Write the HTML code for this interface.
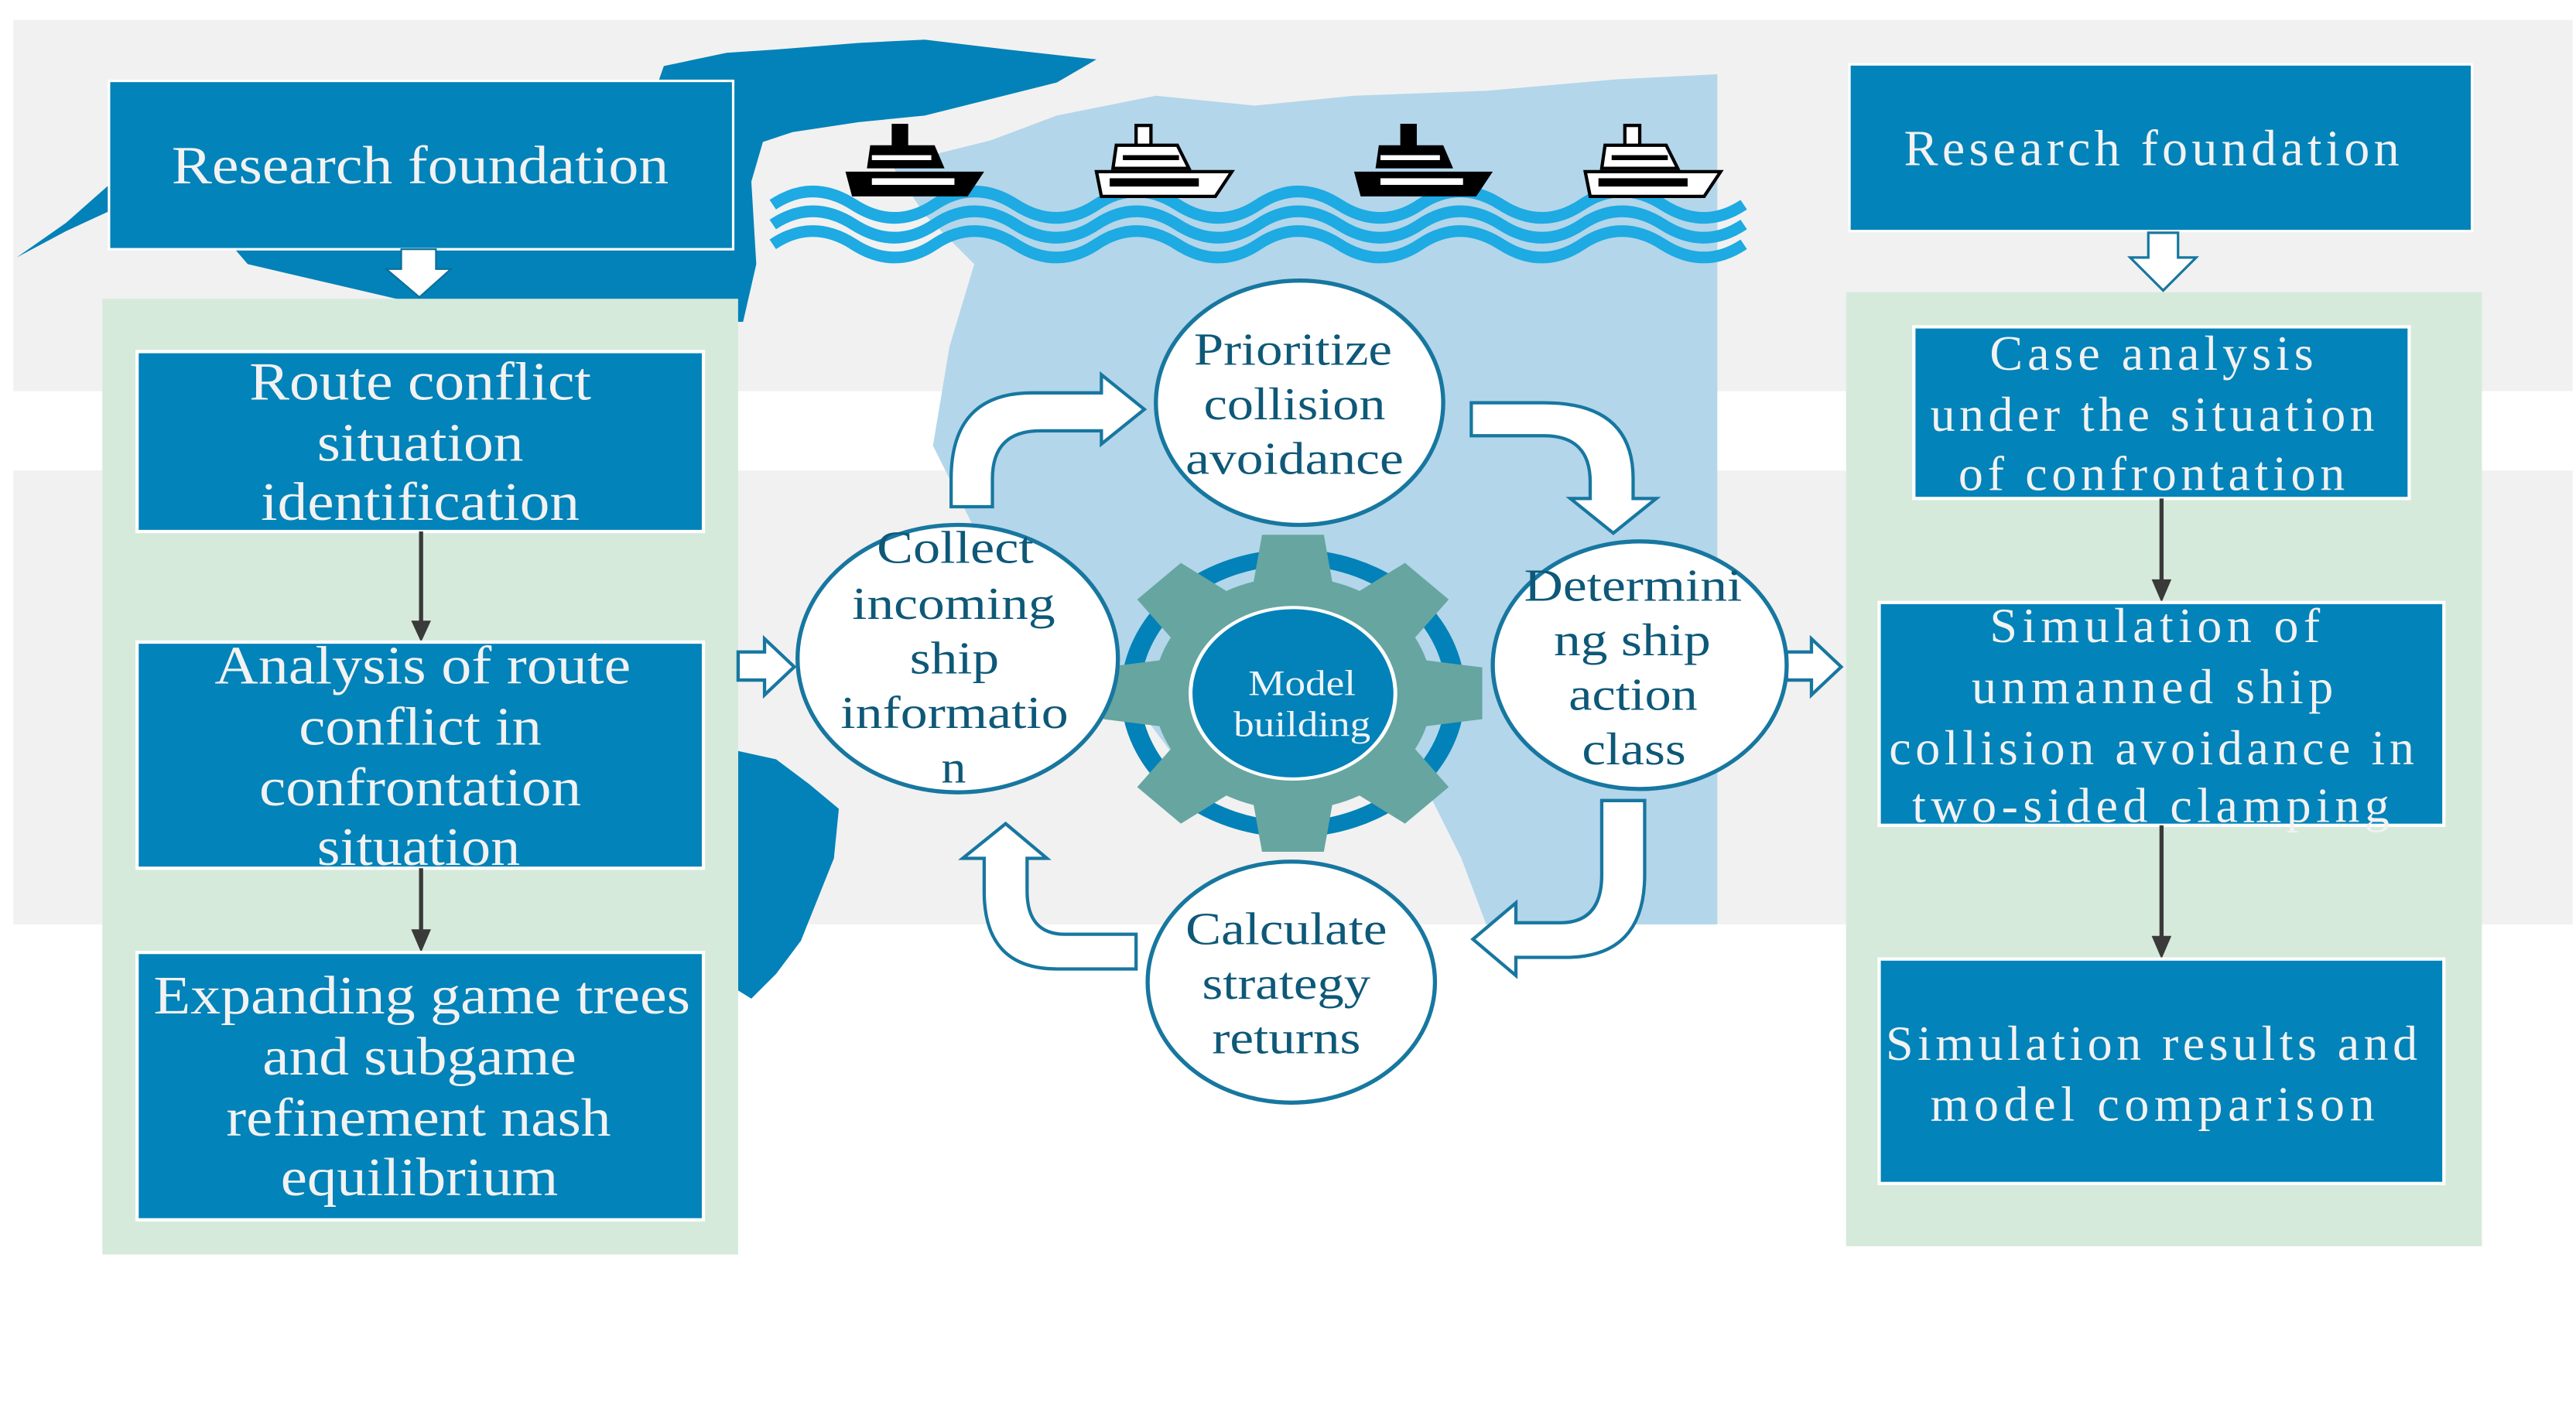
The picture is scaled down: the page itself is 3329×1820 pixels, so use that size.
<!DOCTYPE html>
<html><head><meta charset="utf-8"><style>
html,body{margin:0;padding:0;background:#fff;}
svg{display:block;}
.bx{font-family:"Liberation Serif",serif;fill:#f2f2f2;font-size:33px;text-anchor:start;}
.ct{font-family:"Liberation Serif",serif;fill:#0e5878;font-size:28px;}
</style></head><body>
<svg width="3329" height="1820" viewBox="0 0 1560 853" preserveAspectRatio="none" xmlns="http://www.w3.org/2000/svg">
<rect x="0" y="0" width="1560" height="853" fill="#fff"/>
<rect x="8" y="12" width="1550" height="225" fill="#f1f1f1"/>
<rect x="8" y="285" width="1550" height="275" fill="#f1f1f1"/>
<rect x="1505" y="237" width="53" height="48" fill="#fff"/>
<path d="M540,100 L600,85 L640,70 L700,58 L760,64 L820,58 L900,55 L980,48 L1040,45 L1040,560 L900,560 L885,520 L860,470 L810,455 L720,470 L690,430 L650,400 L620,350 L590,320 L565,270 L575,210 L590,160 L560,130 Z" fill="#b3d6ea"/>
<path d="M402,40 L440,32 L470,30 L520,26 L560,24 L610,30 L664,36 L640,50 L600,60 L560,70 L520,74 L480,80 L462,86 L455,110 L458,160 L450,195 L300,195 L150,160 L120,125 L66,128 L40,140 L10,156 L40,135 L66,112 L140,100 L300,90 L380,85 L395,60 Z" fill="#0282b8"/>
<path d="M447,455 L470,460 L490,475 L508,490 L505,520 L495,545 L485,570 L470,590 L455,605 L447,600 Z" fill="#0282b8"/>
<g fill="none" stroke="#1eaae2" stroke-width="7">
<path d="M468,124 q24,-16 49,0 t49,0 t49,0 t49,0 t49,0 t49,0 t49,0 t49,0 t49,0 t49,0 t49,0 t49,0"/>
<path d="M468,136 q24,-16 49,0 t49,0 t49,0 t49,0 t49,0 t49,0 t49,0 t49,0 t49,0 t49,0 t49,0 t49,0"/>
<path d="M468,148 q24,-16 49,0 t49,0 t49,0 t49,0 t49,0 t49,0 t49,0 t49,0 t49,0 t49,0 t49,0 t49,0"/>
</g>
<g fill="#000">
<rect x="540" y="75" width="10" height="14"/>
<path d="M527,88 H566 L572,102 H525 Z"/>
<path d="M512,104 H596 L586,119 H516 Z"/>
</g>
<g fill="#000"><rect x="848" y="75" width="10" height="14"/><path d="M835,88 H874 L880,102 H833 Z"/><path d="M820,104 H904 L894,119 H824 Z"/></g>
<g fill="#fff" stroke="#000" stroke-width="2"><rect x="688" y="76" width="9" height="13"/><path d="M676,88 H713 L720,102 H674 Z"/><path d="M664,104 H746 L736,119 H667 Z"/></g>
<g fill="#fff" stroke="#000" stroke-width="2"><rect x="984" y="76" width="9" height="13"/><path d="M972,88 H1009 L1016,102 H970 Z"/><path d="M960,104 H1042 L1032,119 H963 Z"/></g>
<g fill="#fff"><rect x="528" y="94" width="36" height="3"/><rect x="528" y="108" width="50" height="4"/><rect x="836" y="94" width="36" height="3"/><rect x="836" y="108" width="50" height="4"/></g>
<g fill="#000"><rect x="680" y="94" width="34" height="3"/><rect x="672" y="108" width="54" height="5"/><rect x="976" y="94" width="34" height="3"/><rect x="968" y="108" width="54" height="5"/></g>

<rect x="66" y="49" width="378" height="102" fill="#0283b9" stroke="#fff" stroke-width="1.5"/>
<text class="bx" x="104" y="111" textLength="301" lengthAdjust="spacingAndGlyphs">Research foundation</text>
<path d="M243,151 H264 V163 H273 L254,180 L234,163 H243 Z" fill="#fff" stroke="#0a6f9a" stroke-width="1"/>
<rect x="62" y="181" width="385" height="579" fill="#d5eadb"/>
<rect x="83" y="213" width="343" height="109" fill="#0283b9" stroke="#fff" stroke-width="2"/>
<text class="bx" x="151" y="242" textLength="207" lengthAdjust="spacingAndGlyphs">Route conflict</text>
<text class="bx" x="192" y="279" textLength="125" lengthAdjust="spacingAndGlyphs">situation</text>
<text class="bx" x="158" y="315" textLength="193" lengthAdjust="spacingAndGlyphs">identification</text>
<line x1="255" y1="322" x2="255" y2="378" stroke="#3a3a3a" stroke-width="2.5"/>
<path d="M249,376 H261 L255,389 Z" fill="#3a3a3a"/>
<rect x="83" y="389" width="343" height="137" fill="#0283b9" stroke="#fff" stroke-width="2"/>
<text class="bx" x="130" y="414" textLength="252" lengthAdjust="spacingAndGlyphs">Analysis of route</text>
<text class="bx" x="181" y="451" textLength="147" lengthAdjust="spacingAndGlyphs">conflict in</text>
<text class="bx" x="157" y="488" textLength="195" lengthAdjust="spacingAndGlyphs">confrontation</text>
<text class="bx" x="192" y="524" textLength="123" lengthAdjust="spacingAndGlyphs">situation</text>
<line x1="255" y1="526" x2="255" y2="566" stroke="#3a3a3a" stroke-width="2.5"/>
<path d="M249,563 H261 L255,577 Z" fill="#3a3a3a"/>
<rect x="83" y="577" width="343" height="162" fill="#0283b9" stroke="#fff" stroke-width="2"/>
<text class="bx" x="93" y="614" textLength="325" lengthAdjust="spacingAndGlyphs">Expanding game trees</text>
<text class="bx" x="159" y="651" textLength="190" lengthAdjust="spacingAndGlyphs">and subgame</text>
<text class="bx" x="137" y="688" textLength="233" lengthAdjust="spacingAndGlyphs">refinement nash</text>
<text class="bx" x="170" y="724" textLength="168" lengthAdjust="spacingAndGlyphs">equilibrium</text>

<rect x="1120" y="39" width="377" height="101" fill="#0283b9" stroke="#fff" stroke-width="1.5"/>
<text class="bx" x="1153" y="100" textLength="300" lengthAdjust="spacing" style="font-size:31px">Research foundation</text>
<path d="M1301,141 H1319 V156 H1330 L1310,176 L1290,156 H1301 Z" fill="#fff" stroke="#1777a0" stroke-width="1.5"/>
<rect x="1118" y="177" width="385" height="578" fill="#d5eadb"/>
<rect x="1159" y="198" width="300" height="104" fill="#0283b9" stroke="#fff" stroke-width="2"/>
<text class="bx" x="1205" y="224" textLength="196" lengthAdjust="spacing" style="font-size:30px">Case analysis</text>
<text class="bx" x="1169" y="261" textLength="269" lengthAdjust="spacing" style="font-size:30px">under the situation</text>
<text class="bx" x="1186" y="297" textLength="234" lengthAdjust="spacing" style="font-size:30px">of confrontation</text>
<line x1="1309" y1="302" x2="1309" y2="354" stroke="#3a3a3a" stroke-width="2.5"/>
<path d="M1303,351 H1315 L1309,365 Z" fill="#3a3a3a"/>
<rect x="1138" y="365" width="342" height="135" fill="#0283b9" stroke="#fff" stroke-width="2"/>
<text class="bx" x="1205" y="389" textLength="200" lengthAdjust="spacing" style="font-size:30px">Simulation of</text>
<text class="bx" x="1194" y="426" textLength="219" lengthAdjust="spacing" style="font-size:30px">unmanned ship</text>
<text class="bx" x="1144" y="463" textLength="318" lengthAdjust="spacing" style="font-size:30px">collision avoidance in</text>
<text class="bx" x="1158" y="498" textLength="289" lengthAdjust="spacing" style="font-size:30px">two-sided clamping</text>
<line x1="1309" y1="500" x2="1309" y2="570" stroke="#3a3a3a" stroke-width="2.5"/>
<path d="M1303,567 H1315 L1309,581 Z" fill="#3a3a3a"/>
<rect x="1138" y="581" width="342" height="136" fill="#0283b9" stroke="#fff" stroke-width="2"/>
<text class="bx" x="1142" y="642" textLength="322" lengthAdjust="spacing" style="font-size:30px">Simulation results and</text>
<text class="bx" x="1169" y="679" textLength="269" lengthAdjust="spacing" style="font-size:30px">model comparison</text>

<g fill="#fff" stroke="#1777a0" stroke-width="2">
<path d="M576,307 V290 Q576,238 625,238 H667 V227 L693,248 L667,269 V261 H630 Q601,261 601,290 V307 Z"/>
<path d="M891,244 H935 Q989,244 989,290 V302 H1003 L977,323 L951,302 H963 V292 Q963,264 935,264 H891 Z"/>
<path d="M970,485 H996 V530 Q996,580 948,580 H918 V591 L892,569 L918,547 V559 H945 Q970,559 970,530 Z"/>
<path d="M688,566 H645 Q622,566 622,540 V520 H634 L609,499 L583,520 H596 V540 Q596,587 640,587 H688 Z"/>
<path d="M447,395 H463 V387 L481,404 L463,421 V412 H447 Z"/>
<path d="M1082,395 H1097 V387 L1115,404 L1097,421 V412 H1082 Z"/>
</g>

<g transform="translate(783,420) scale(1.17,0.98)">
<circle r="84" fill="none" stroke="#0282b8" stroke-width="10"/>
<g fill="#67a5a0">
<circle r="72"/>
<g id="t"><path d="M-16,-98 H16 L22,-58 H-22 Z"/></g>
<use href="#t" transform="rotate(45)"/><use href="#t" transform="rotate(90)"/><use href="#t" transform="rotate(135)"/>
<use href="#t" transform="rotate(180)"/><use href="#t" transform="rotate(225)"/><use href="#t" transform="rotate(270)"/><use href="#t" transform="rotate(315)"/>
</g>
<circle r="53" fill="#0282b8" stroke="#fff" stroke-width="2"/>
</g>
<text x="756" y="421" textLength="65" lengthAdjust="spacingAndGlyphs" style="font-family:'Liberation Serif',serif;font-size:22px;fill:#eef4f8">Model</text>
<text x="747" y="446" textLength="83" lengthAdjust="spacingAndGlyphs" style="font-family:'Liberation Serif',serif;font-size:22px;fill:#eef4f8">building</text>

<g fill="#fff" stroke="#1777a0" stroke-width="2.5">
<ellipse cx="787" cy="244" rx="87" ry="74"/>
<ellipse cx="580" cy="399" rx="97" ry="81"/>
<ellipse cx="993" cy="403" rx="89" ry="75"/>
<ellipse cx="782" cy="595" rx="87" ry="73"/>
</g>
<text class="ct" x="723" y="221" textLength="120" lengthAdjust="spacingAndGlyphs">Prioritize</text>
<text class="ct" x="729" y="254" textLength="110" lengthAdjust="spacingAndGlyphs">collision</text>
<text class="ct" x="718" y="287" textLength="132" lengthAdjust="spacingAndGlyphs">avoidance</text>
<text class="ct" x="531" y="341" textLength="95" lengthAdjust="spacingAndGlyphs">Collect</text>
<text class="ct" x="516" y="375" textLength="123" lengthAdjust="spacingAndGlyphs">incoming</text>
<text class="ct" x="551" y="408" textLength="54" lengthAdjust="spacingAndGlyphs">ship</text>
<text class="ct" x="509" y="441" textLength="138" lengthAdjust="spacingAndGlyphs">informatio</text>
<text class="ct" x="570" y="474" textLength="15" lengthAdjust="spacingAndGlyphs">n</text>
<text class="ct" x="923" y="364" textLength="132" lengthAdjust="spacingAndGlyphs">Determini</text>
<text class="ct" x="941" y="397" textLength="95" lengthAdjust="spacingAndGlyphs">ng ship</text>
<text class="ct" x="950" y="430" textLength="78" lengthAdjust="spacingAndGlyphs">action</text>
<text class="ct" x="958" y="463" textLength="63" lengthAdjust="spacingAndGlyphs">class</text>
<text class="ct" x="718" y="572" textLength="122" lengthAdjust="spacingAndGlyphs">Calculate</text>
<text class="ct" x="728" y="605" textLength="102" lengthAdjust="spacingAndGlyphs">strategy</text>
<text class="ct" x="734" y="638" textLength="90" lengthAdjust="spacingAndGlyphs">returns</text>
</svg>
</body></html>
